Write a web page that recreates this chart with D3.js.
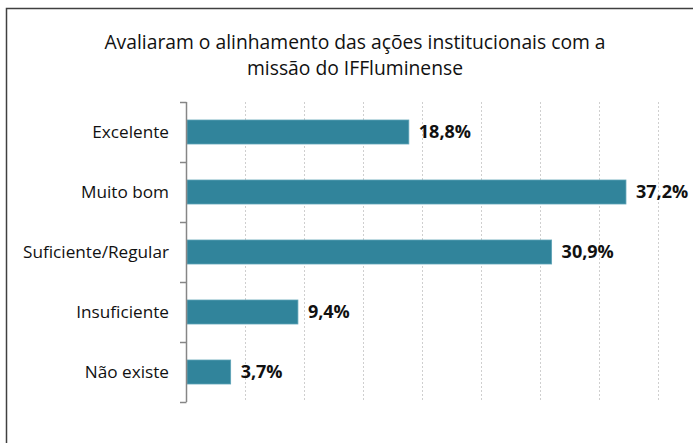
<!DOCTYPE html>
<html>
<head>
<meta charset="utf-8">
<script src="https://cdn.jsdelivr.net/npm/d3@7"></script>
<style>
  body { margin: 0; background: #fff; }
  svg { display: block; font-family: "Open Sans", "Noto Sans", sans-serif; }
</style>
</head>
<body>
<div id="chart"></div>
<script>
// chart data
const categories = ["Excelente", "Muito bom", "Suficiente/Regular", "Insuficiente", "Não existe"];
const values = [18.8, 37.2, 30.9, 9.4, 3.7];
const xTicks = [0, 5, 10, 15, 20, 25, 30, 35, 40];
const titleLines = ["Avaliaram o alinhamento das ações institucionais com a", "missão do IFFluminense"];

const W = 693, H = 443;
const margin = { top: 102, left: 187 };
const plotW = 472, plotH = 300;

const svg = d3.select("#chart").append("svg")
  .attr("width", W)
  .attr("height", H);

// outer frame
svg.append("rect")
  .attr("x", 6.5).attr("y", 8.5)
  .attr("width", 720).attr("height", 500)
  .attr("fill", "none")
  .attr("stroke", "#404040")
  .attr("stroke-width", 1.5);

// title
svg.append("text")
  .attr("x", 355).attr("y", 49)
  .attr("text-anchor", "middle")
  .style("font-size", "19.3px")
  .style("fill", "#111")
  .selectAll("tspan")
  .data(titleLines)
  .join("tspan")
  .attr("x", 355)
  .attr("dy", (d, i) => i === 0 ? 0 : 26)
  .text(d => d);

const g = svg.append("g").attr("transform", `translate(${margin.left}, ${margin.top})`);

const x = d3.scaleLinear().domain([0, 40]).range([0, plotW]);
const y = d3.scaleBand().domain(categories).range([0, plotH]).paddingInner(0.6).paddingOuter(0.3);

// dotted gridlines
g.selectAll("line.grid")
  .data(xTicks.slice(1))
  .join("line")
  .attr("class", "grid")
  .attr("x1", d => Math.round(x(d)) - 0.5)
  .attr("x2", d => Math.round(x(d)) - 0.5)
  .attr("y1", 0)
  .attr("y2", plotH)
  .attr("stroke", "#cfcfcf")
  .attr("stroke-width", 1)
  .attr("stroke-dasharray", "2,2");

// bars
g.selectAll("rect.bar")
  .data(values)
  .join("rect")
  .attr("class", "bar")
  .attr("x", 0)
  .attr("y", (d, i) => y(categories[i]))
  .attr("width", d => x(d))
  .attr("height", y.bandwidth())
  .attr("fill", "#31849b")
  .attr("stroke", "#5ea3b6")
  .attr("stroke-width", 0.8);

// value labels
g.selectAll("text.val")
  .data(values)
  .join("text")
  .attr("class", "val")
  .attr("x", d => x(d) + 10)
  .attr("y", (d, i) => y(categories[i]) + y.bandwidth() / 2)
  .attr("dy", "0.36em")
  .style("font-size", "18px")
  .style("font-weight", "bold")
  .style("fill", "#111")
  .text(d => d.toFixed(1).replace(".", ",") + "%");

// category axis with ticks between bands
const axisG = g.append("g");
axisG.append("line")
  .attr("x1", -0.5).attr("x2", -0.5)
  .attr("y1", 0).attr("y2", plotH)
  .attr("stroke", "#868686").attr("stroke-width", 1.5);
const bounds = d3.range(categories.length + 1).map(i => i * plotH / categories.length);
axisG.selectAll("line.tick")
  .data(bounds)
  .join("line")
  .attr("class", "tick")
  .attr("x1", -7).attr("x2", -0.5)
  .attr("y1", d => Math.round(d) + 0.5)
  .attr("y2", d => Math.round(d) + 0.5)
  .attr("stroke", "#868686").attr("stroke-width", 1.5);

axisG.selectAll("text.cat")
  .data(categories)
  .join("text")
  .attr("class", "cat")
  .attr("x", -18)
  .attr("y", d => y(d) + y.bandwidth() / 2)
  .attr("dy", "0.36em")
  .attr("text-anchor", "end")
  .style("font-size", "17.2px")
  .style("fill", "#111")
  .text(d => d);
</script>
</body>
</html>
